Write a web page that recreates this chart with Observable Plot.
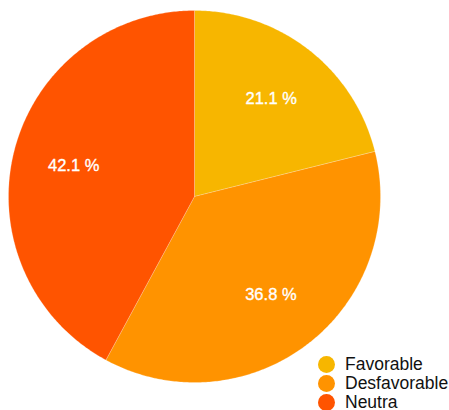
<!DOCTYPE html>
<html>
<head>
<meta charset="utf-8">
<script src="https://cdn.jsdelivr.net/npm/d3@7"></script>
<script src="https://cdn.jsdelivr.net/npm/@observablehq/plot@0.6"></script>
<style>
  html, body { margin: 0; padding: 0; background: #fff; }
  #wrap { position: relative; width: 449px; height: 410px; overflow: hidden; font-family: "Liberation Sans", Arial, Helvetica, sans-serif; }
  #legend { position: absolute; left: 318px; top: 355px; }
  .row { display: flex; align-items: center; height: 19px; font-size: 17.5px; color: #111; white-space: nowrap; }
  .sw { width: 17px; height: 17px; border-radius: 50%; margin-right: 10px; flex: none; }
</style>
</head>
<body>
<div id="wrap"><div id="legend"></div></div>
<script>
const categories = ["Favorable", "Desfavorable", "Neutra"];
const values = [21.1, 36.8, 42.1];
const colors = ["#F7B600", "#FF9300", "#FF5400"];
const labels = ["21.1 %", "36.8 %", "42.1 %"];

const arcs = d3.pie().sort(null).value(d => d)(values);

// build polygon points (unit circle, y up) for each slice
const polys = [];
arcs.forEach((a, i) => {
  const n = Math.max(2, Math.ceil((a.endAngle - a.startAngle) / 0.01));
  polys.push({cat: categories[i], x: 0, y: 0});
  for (let k = 0; k <= n; k++) {
    const t = a.startAngle + (a.endAngle - a.startAngle) * k / n;
    polys.push({cat: categories[i], x: Math.sin(t), y: Math.cos(t)});
  }
  polys.push({cat: categories[i], x: 0, y: 0});
});

const labelData = arcs.map((a, i) => {
  const m = (a.startAngle + a.endAngle) / 2;
  return {label: labels[i], x: 0.67 * Math.sin(m), y: 0.67 * Math.cos(m)};
});

const chart = Plot.plot({
  width: 449,
  height: 410,
  margin: 0,
  x: {domain: [-1, 1], range: [8, 380], axis: null},
  y: {domain: [-1, 1], range: [382, 10], axis: null},
  color: {domain: categories, range: colors},
  style: {background: "transparent", fontFamily: "Liberation Sans, Arial, sans-serif"},
  marks: [
    Plot.line(polys, {x: "x", y: "y", z: "cat", fill: "cat", stroke: "white", strokeWidth: 0.6, strokeOpacity: 0.35, curve: "linear"}),
    Plot.text(labelData, {x: "x", y: "y", text: "label", fill: "white", stroke: "white", strokeWidth: 0.35, fontSize: 16.5})
  ]
});
document.getElementById("wrap").prepend(chart);

const legend = document.getElementById("legend");
categories.forEach((c, i) => {
  const row = document.createElement("div");
  row.className = "row";
  const sw = document.createElement("span");
  sw.className = "sw";
  sw.style.background = colors[i];
  const t = document.createElement("span");
  t.textContent = c;
  row.appendChild(sw);
  row.appendChild(t);
  legend.appendChild(row);
});
</script>
</body>
</html>
